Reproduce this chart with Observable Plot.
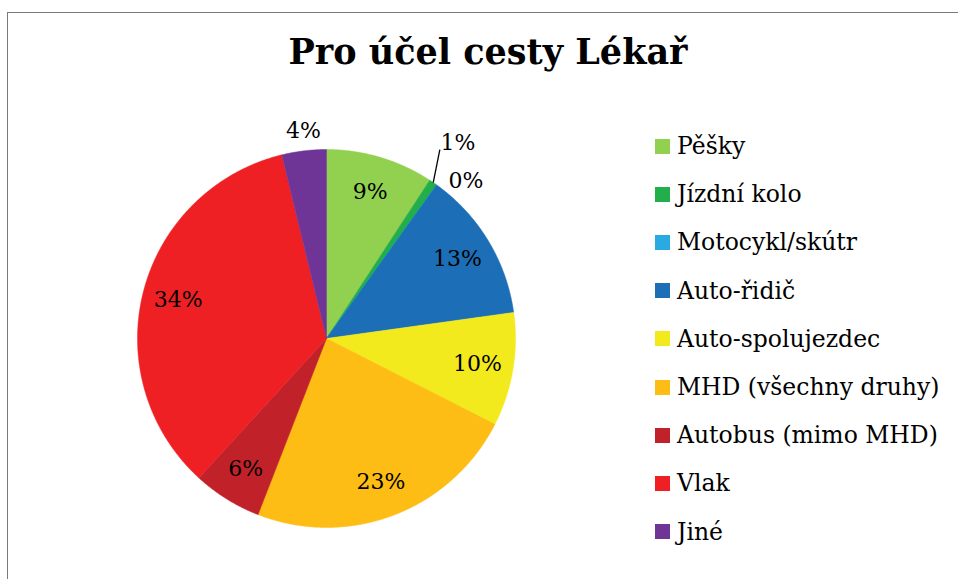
<!DOCTYPE html>
<html><head><meta charset="utf-8">
<script src="https://cdn.jsdelivr.net/npm/d3@7"></script>
<script src="https://cdn.jsdelivr.net/npm/@observablehq/plot@0.6"></script>
<style>
html,body{margin:0;padding:0;background:#fff;width:958px;height:579px;overflow:hidden;font-family:"DejaVu Serif",serif;}
#frame{position:absolute;left:7px;top:12px;width:1000px;height:700px;border:1.5px solid #7b7b7b;box-sizing:border-box;}
#title{position:absolute;left:8px;width:960px;top:31px;text-align:center;font-weight:bold;font-size:35px;color:#000;white-space:nowrap;}
#chart{position:absolute;left:45.5px;top:78px;}
#legend{position:absolute;left:655px;top:122px;}
.row{display:flex;align-items:center;height:48.2px;font-size:23.5px;color:#000;white-space:nowrap;}
.sw{width:15px;height:15px;margin-right:7px;flex:none;}
</style></head><body>
<div id="frame"></div>
<div id="title"></div>
<div id="chart"></div>
<div id="legend"></div>
<script>
const title = "Pro účel cesty Lékař";
const categories = ["Pěšky","Jízdní kolo","Motocykl/skútr","Auto-řidič","Auto-spolujezdec","MHD (všechny druhy)","Autobus (mimo MHD)","Vlak","Jiné"];
const shares = [9.2, 0.7, 0, 12.9, 9.7, 23.4, 5.9, 34.4, 3.8];
const colors = ["#92D050","#22AE4B","#29ABE2","#1C6EB7","#F2EA1C","#FDBD14","#C1222A","#EE2024","#6E3596"];

document.getElementById("title").textContent = title;

// layout tweaks for small (outside) labels
const outsideLayout = {
  "Jízdní kolo": {r: 1.245, da: -0.4, leader: {r: 1.165, da: -3.4}},
  "Motocykl/skútr": {r: 1.115, da: 5.8},
  "Jiné": {r: 1.105, da: 0.5}
};

const arcs = d3.pie().sort(null).value(d => d.value)(categories.map((name, i) => ({name, value: shares[i]})));

const points = [];
const labels = [];
const leaders = [];
const deg = Math.PI / 180;
for (const a of arcs) {
  const name = a.data.name;
  points.push({name, x: 0, y: 0});
  const n = Math.max(2, Math.ceil((a.endAngle - a.startAngle) / 0.005));
  for (let k = 0; k <= n; k++) {
    const t = a.startAngle + (a.endAngle - a.startAngle) * k / n;
    points.push({name, x: Math.sin(t), y: Math.cos(t)});
  }
  points.push({name, x: 0, y: 0});
  const mid = (a.startAngle + a.endAngle) / 2;
  const text = Math.round(a.data.value) + "%";
  if (a.data.value >= 5) {
    labels.push({x: 0.81 * Math.sin(mid), y: 0.81 * Math.cos(mid), text});
  } else {
    const L = outsideLayout[name] || {r: 1.11, da: 0};
    const ang = mid + L.da * deg;
    labels.push({x: L.r * Math.sin(ang), y: L.r * Math.cos(ang), text});
    if (L.leader) {
      const la = mid + L.leader.da * deg;
      leaders.push({x1: Math.sin(mid), y1: Math.cos(mid), x2: L.leader.r * Math.sin(la), y2: L.leader.r * Math.cos(la)});
    }
  }
}

const R = 189, W = 560, H = 520;
const chart = Plot.plot({
  width: W, height: H, margin: 0,
  x: {domain: [-W / 2 / R, W / 2 / R], axis: null},
  y: {domain: [-H / 2 / R, H / 2 / R], axis: null},
  color: {domain: categories, range: colors},
  style: {background: "transparent", fontFamily: '"DejaVu Serif", serif', overflow: "visible"},
  marks: [
    Plot.line(points, {x: "x", y: "y", z: "name", fill: "name", stroke: "name", strokeWidth: 0.5, curve: "linear"}),
    Plot.link(leaders, {x1: "x1", y1: "y1", x2: "x2", y2: "y2", stroke: "#000", strokeWidth: 1.3}),
    Plot.text(labels, {x: "x", y: "y", text: "text", fontSize: 22, fill: "#000", fontFamily: '"DejaVu Serif", serif'})
  ]
});
document.getElementById("chart").appendChild(chart);

const legend = document.getElementById("legend");
categories.forEach((c, i) => {
  const row = document.createElement("div");
  row.className = "row";
  const sw = document.createElement("span");
  sw.className = "sw";
  sw.style.background = colors[i];
  const lab = document.createElement("span");
  lab.textContent = c;
  row.appendChild(sw);
  row.appendChild(lab);
  legend.appendChild(row);
});
</script>
</body></html>
